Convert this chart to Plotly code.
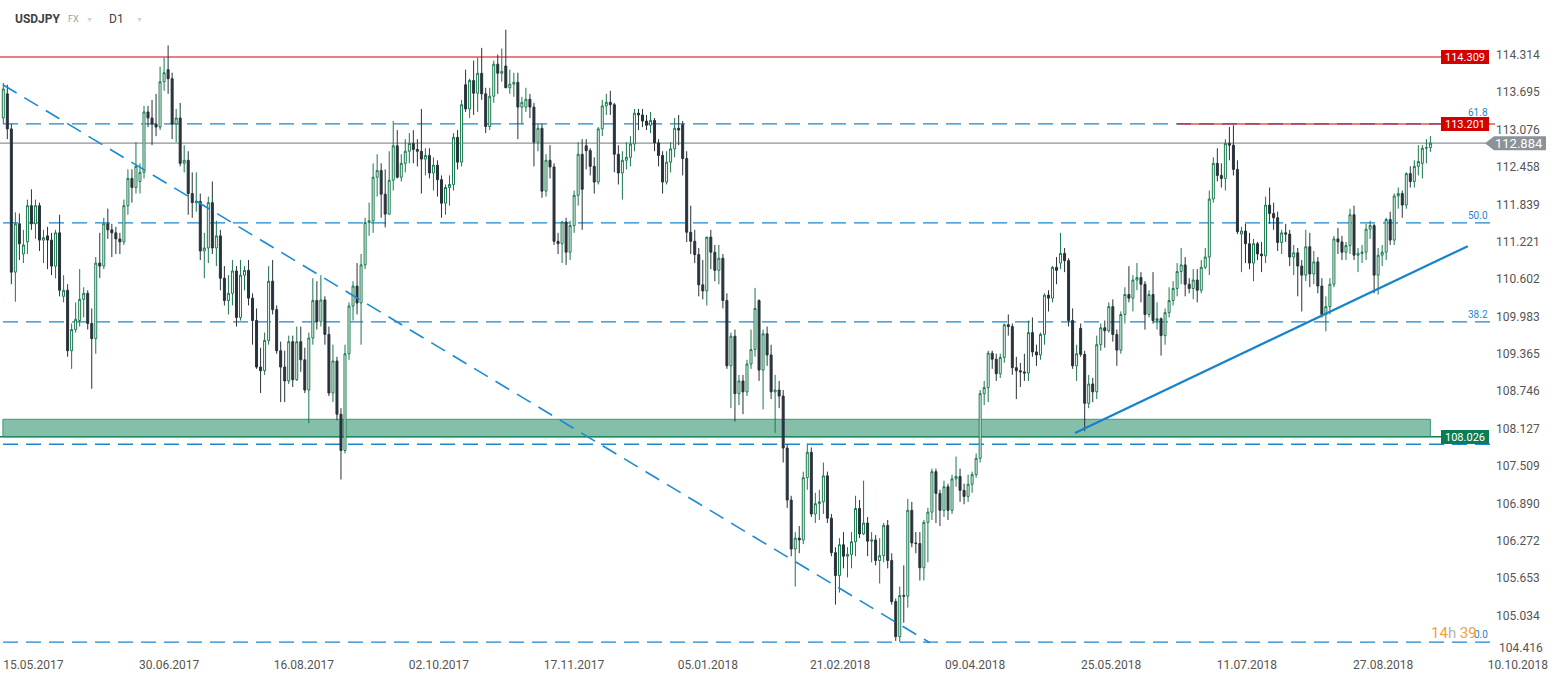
import plotly.graph_objects as go

# ---------------- USDJPY D1 candles: (open, high, low, close), one list per month ----------------
may17 = [
    (113.30, 113.88, 113.20, 113.78), (113.70, 113.85, 112.95, 113.12), (113.12, 113.20, 110.55, 110.75),
    (110.75, 111.74, 110.26, 111.55), (111.55, 111.72, 110.95, 111.22), (111.05, 111.45, 110.90, 111.20),
    (111.25, 111.95, 111.05, 111.85), (111.85, 112.12, 111.45, 111.55), (111.55, 111.95, 111.30, 111.85),
    (111.85, 111.90, 111.10, 111.28), (111.28, 111.45, 110.90, 111.32), (111.35, 111.50, 110.80, 111.28),
    (111.28, 111.40, 110.70, 110.85),
]
jun17 = [
    (110.85, 111.45, 110.65, 111.40), (111.40, 111.70, 110.35, 110.45), (110.35, 110.70, 110.25, 110.45),
    (110.45, 110.55, 109.35, 109.45), (109.45, 109.90, 109.15, 109.80), (109.80, 110.25, 109.75, 109.97),
    (109.95, 110.80, 109.85, 110.30), (110.30, 110.50, 110.00, 110.40), (110.40, 110.45, 109.80, 109.90),
    (109.90, 110.15, 108.82, 109.65), (109.65, 111.00, 109.40, 110.90), (110.90, 111.40, 110.65, 110.85),
    (110.85, 111.65, 110.80, 111.55), (111.55, 111.80, 111.30, 111.45), (111.45, 111.55, 111.00, 111.40),
    (111.40, 111.50, 111.05, 111.30), (111.30, 111.40, 111.05, 111.25), (111.25, 111.95, 111.20, 111.85),
    (111.85, 112.45, 111.70, 112.30), (112.30, 112.45, 111.90, 112.15), (112.15, 112.90, 112.05, 112.50),
    (112.25, 112.55, 112.05, 112.40),
]
jul17 = [
    (112.40, 113.50, 112.30, 113.40), (113.40, 113.50, 113.15, 113.30), (113.30, 113.60, 112.85, 113.20),
    (113.20, 113.70, 113.00, 113.15), (113.15, 114.15, 113.10, 113.90), (113.90, 114.30, 113.75, 114.05),
    (114.10, 114.50, 113.70, 113.95), (113.95, 114.05, 112.95, 113.20), (113.20, 113.45, 112.90, 113.30),
    (113.30, 113.55, 112.50, 112.55), (112.55, 112.85, 112.40, 112.60), (112.60, 112.75, 111.70, 112.05),
    (112.05, 112.40, 111.65, 111.90), (111.90, 112.40, 111.75, 111.92), (111.92, 112.05, 110.95, 111.10),
    (111.10, 111.40, 110.65, 111.15), (111.15, 112.00, 110.90, 111.90), (111.90, 112.25, 111.05, 111.15),
    (111.15, 111.60, 110.85, 111.35), (111.35, 111.45, 110.45, 110.65), (110.65, 110.85, 110.20, 110.28),
]
aug17 = [
    (110.28, 110.70, 110.05, 110.40), (110.40, 110.95, 110.20, 110.77), (110.77, 110.85, 109.85, 110.00),
    (110.00, 110.95, 109.95, 110.70), (110.70, 110.85, 110.45, 110.78), (110.78, 110.95, 110.20, 110.32),
    (110.32, 110.40, 109.55, 109.95), (109.95, 110.15, 109.15, 109.18), (109.18, 109.50, 108.75, 109.12),
    (109.12, 109.75, 109.05, 109.62), (109.62, 110.85, 109.55, 110.60), (110.60, 110.95, 110.05, 110.13),
    (110.13, 110.20, 109.40, 109.45), (109.45, 109.60, 108.60, 109.18), (109.18, 109.45, 108.60, 108.95),
    (108.95, 109.70, 108.90, 109.60), (109.60, 109.70, 108.85, 108.97), (108.97, 109.85, 108.95, 109.60),
    (109.60, 109.85, 109.10, 109.30), (109.30, 109.50, 108.75, 108.80), (108.80, 109.75, 108.25, 109.66),
    (109.66, 110.65, 109.55, 110.28), (110.28, 110.60, 109.80, 109.93),
]
sep17 = [
    (109.93, 110.70, 109.85, 110.29), (110.29, 110.35, 109.55, 109.72), (109.72, 109.85, 108.70, 108.75),
    (108.75, 109.55, 108.60, 109.28), (109.28, 109.35, 108.30, 108.40), (108.40, 108.50, 107.32, 107.80),
    (107.80, 109.55, 107.75, 109.40), (109.40, 110.25, 109.30, 110.19), (110.19, 110.60, 109.95, 110.52),
    (110.52, 110.90, 110.05, 110.24), (110.24, 111.05, 109.55, 110.87), (110.87, 111.65, 110.80, 111.57),
    (111.57, 111.90, 111.35, 111.60), (111.60, 112.55, 111.40, 112.32), (112.32, 112.70, 112.00, 112.43),
    (112.43, 112.55, 111.65, 112.04), (112.04, 112.45, 111.49, 111.71), (111.71, 112.75, 111.70, 112.27),
    (112.27, 113.25, 112.10, 112.84), (112.84, 113.10, 112.30, 112.32), (112.32, 112.70, 112.25, 112.55),
]
oct17 = [
    (112.55, 112.95, 112.40, 112.75), (112.75, 113.05, 112.55, 112.88), (112.88, 113.10, 112.55, 112.78),
    (112.78, 112.95, 112.50, 112.75), (112.75, 113.45, 112.05, 112.62), (112.62, 112.80, 112.35, 112.68),
    (112.68, 112.80, 112.30, 112.39), (112.39, 112.65, 112.10, 112.52), (112.52, 112.60, 112.00, 112.28),
    (112.28, 112.35, 111.65, 111.89), (111.89, 112.20, 111.70, 112.15), (112.15, 112.35, 111.85, 112.20),
    (112.20, 113.05, 112.10, 112.98), (112.98, 113.10, 112.45, 112.57), (112.57, 113.60, 112.50, 113.52),
    (113.85, 114.10, 113.40, 113.45), (113.45, 113.95, 113.30, 113.92), (113.92, 114.25, 113.35, 113.71),
    (113.71, 114.30, 113.40, 114.04), (114.04, 114.46, 113.60, 113.70), (113.70, 113.80, 113.05, 113.16),
    (113.16, 113.80, 113.10, 113.66),
]
nov17 = [
    (113.66, 114.25, 113.55, 114.19), (114.19, 114.35, 113.70, 114.04), (114.04, 114.45, 113.90, 114.07),
    (114.16, 114.76, 113.90, 113.80), (113.80, 114.10, 113.70, 113.86), (113.86, 114.05, 113.65, 113.89),
    (113.89, 114.05, 112.95, 113.48), (113.48, 113.65, 113.20, 113.56), (113.48, 113.80, 113.40, 113.61),
    (113.61, 113.70, 113.30, 113.48), (113.48, 113.55, 112.50, 112.90), (112.90, 113.20, 112.75, 113.13),
    (113.13, 113.20, 111.98, 112.09), (112.09, 112.70, 112.00, 112.60), (112.60, 112.85, 112.30, 112.49),
    (112.49, 112.55, 111.20, 111.26), (111.26, 111.40, 111.05, 111.22), (111.22, 111.60, 110.90, 111.58),
    (111.58, 111.65, 110.87, 111.08), (111.08, 111.60, 110.95, 111.52), (111.52, 112.10, 111.40, 112.02),
    (112.02, 112.90, 111.85, 112.70),
]
dec17 = [
    (112.70, 112.95, 111.45, 112.12), (112.84, 112.95, 112.45, 112.76), (112.76, 112.80, 112.35, 112.50),
    (112.50, 112.65, 112.05, 112.24), (112.24, 113.15, 112.20, 113.12), (113.12, 113.60, 113.00, 113.50),
    (113.50, 113.70, 113.35, 113.56), (113.56, 113.75, 113.35, 113.52), (113.52, 113.55, 112.40, 112.70),
    (112.70, 112.85, 112.20, 112.39), (112.39, 112.75, 111.95, 112.60), (112.60, 112.90, 112.45, 112.65),
    (112.65, 113.00, 112.50, 112.87), (112.87, 113.45, 112.75, 113.38), (113.38, 113.45, 113.10, 113.35),
    (113.35, 113.45, 113.15, 113.25), (113.25, 113.35, 113.10, 113.18), (113.18, 113.40, 113.05, 113.26),
    (113.26, 113.30, 112.75, 112.89), (112.89, 112.95, 112.50, 112.68),
]
jan18 = [
    (112.68, 112.75, 112.05, 112.24), (112.24, 112.75, 112.20, 112.57), (112.57, 112.90, 112.40, 112.79),
    (112.79, 113.30, 112.65, 113.13), (113.13, 113.35, 112.85, 113.10), (113.19, 113.25, 112.35, 112.63),
    (112.63, 112.75, 111.25, 111.41), (111.41, 111.85, 111.05, 111.26), (111.26, 111.45, 110.90, 111.04),
    (111.04, 111.15, 110.35, 110.54), (110.54, 110.95, 110.30, 110.44), (110.44, 111.30, 110.20, 111.33),
    (111.33, 111.45, 110.80, 111.08), (111.08, 111.20, 110.60, 110.78), (110.78, 111.20, 110.55, 110.98),
    (110.98, 111.05, 110.15, 110.28), (110.28, 110.40, 109.15, 109.20), (109.20, 109.75, 108.50, 109.69),
    (109.69, 109.80, 108.28, 108.74), (108.74, 109.05, 108.55, 108.95), (108.95, 109.05, 108.40, 108.77),
    (108.77, 109.30, 108.70, 109.23),
]
feb18 = [
    (109.23, 109.80, 109.15, 109.47), (109.47, 110.49, 109.35, 110.15), (110.28, 110.30, 108.95, 109.13),
    (109.13, 109.80, 108.48, 109.73), (109.73, 109.85, 109.20, 109.38), (109.38, 109.55, 108.65, 108.77),
    (108.77, 109.05, 108.09, 108.80), (108.80, 108.95, 108.50, 108.70), (108.70, 108.80, 107.60, 107.84),
    (107.84, 107.90, 106.85, 106.98), (106.98, 107.05, 106.05, 106.17), (106.17, 106.45, 105.55, 106.35),
    (106.35, 106.55, 106.10, 106.32), (106.32, 107.45, 106.25, 107.35), (107.35, 107.92, 107.15, 107.77),
    (107.77, 107.85, 106.70, 106.75), (106.75, 107.10, 106.60, 106.92), (106.92, 107.15, 106.65, 106.95),
    (106.95, 107.60, 106.75, 107.38), (107.38, 107.45, 106.60, 106.68),
]
mar18 = [
    (106.68, 106.75, 106.05, 106.11), (106.11, 106.20, 105.25, 105.73), (105.73, 106.35, 105.45, 106.24),
    (106.24, 106.45, 105.85, 106.05), (106.05, 106.20, 105.70, 106.08), (106.08, 106.45, 105.85, 106.29),
    (106.29, 107.05, 106.05, 106.84), (106.84, 106.98, 106.35, 106.42), (106.42, 107.30, 106.40, 106.60),
    (106.60, 106.70, 106.05, 106.30), (106.30, 106.45, 105.95, 106.32), (106.32, 106.40, 105.90, 105.98),
    (105.98, 106.35, 105.60, 106.06), (106.06, 106.60, 105.95, 106.56), (106.56, 106.65, 105.85, 105.98),
    (105.98, 106.10, 105.25, 105.30), (105.30, 105.35, 104.65, 104.72), (104.72, 105.55, 104.63, 105.40),
    (105.40, 105.90, 104.95, 105.39), (105.39, 107.00, 105.20, 106.81), (106.81, 106.95, 106.20, 106.27),
    (106.27, 106.45, 106.10, 106.26),
]
apr18 = [
    (106.26, 106.45, 105.65, 105.86), (105.86, 106.65, 105.65, 106.61), (106.61, 106.85, 105.95, 106.78),
    (106.78, 107.50, 106.65, 107.45), (107.45, 107.50, 106.60, 107.09), (107.09, 107.15, 106.55, 106.81),
    (106.81, 107.30, 106.70, 107.20), (107.20, 107.25, 106.65, 106.81), (106.81, 107.40, 106.75, 107.33),
    (107.33, 107.70, 107.20, 107.37), (107.37, 107.50, 106.95, 107.14), (107.14, 107.25, 106.91, 107.04),
    (107.04, 107.40, 106.95, 107.24), (107.24, 107.45, 107.10, 107.40), (107.40, 107.75, 107.35, 107.67),
    (107.67, 108.80, 107.60, 108.74), (108.74, 108.95, 108.55, 108.84), (108.84, 109.45, 108.60, 109.41),
    (109.41, 109.45, 109.15, 109.31), (109.31, 109.40, 108.95, 109.07), (109.07, 109.40, 109.00, 109.34),
]
may18 = [
    (109.34, 109.90, 109.25, 109.88), (109.88, 110.05, 109.70, 109.85), (109.85, 109.90, 109.05, 109.17),
    (109.17, 109.35, 108.65, 109.12), (109.12, 109.25, 108.85, 109.10), (109.10, 109.40, 108.95, 109.08),
    (109.08, 109.95, 108.95, 109.75), (109.75, 110.00, 109.35, 109.43), (109.43, 109.55, 109.20, 109.38),
    (109.38, 109.75, 109.30, 109.72), (109.72, 110.40, 109.55, 110.37), (110.37, 110.45, 110.10, 110.32),
    (110.32, 110.85, 110.25, 110.83), (110.83, 111.00, 110.55, 110.78), (110.90, 111.40, 110.80, 111.06),
    (111.06, 111.15, 110.75, 110.94), (110.94, 110.98, 109.85, 109.95), (109.95, 110.15, 109.15, 109.20),
    (109.20, 109.55, 108.95, 109.40), (109.82, 109.90, 109.35, 109.39), (109.39, 109.45, 108.12, 108.58),
    (108.58, 109.05, 108.50, 108.90), (108.90, 109.00, 108.60, 108.77),
]
jun18 = [
    (108.77, 109.70, 108.65, 109.55), (109.55, 109.90, 109.45, 109.83), (109.83, 109.95, 109.50, 109.78),
    (109.78, 110.25, 109.75, 110.18), (110.18, 110.30, 109.60, 109.72), (109.72, 109.80, 109.20, 109.46),
    (109.46, 110.10, 109.40, 110.05), (110.05, 110.50, 109.90, 110.38), (110.38, 110.85, 110.25, 110.32),
    (110.32, 110.70, 110.10, 110.62), (110.62, 110.90, 110.45, 110.66), (110.66, 110.75, 110.25, 110.55),
    (110.55, 110.60, 109.80, 110.05), (110.05, 110.45, 110.00, 110.38), (110.38, 110.75, 109.90, 109.95),
    (109.95, 110.25, 109.80, 109.98), (109.98, 110.00, 109.37, 109.70), (109.70, 110.15, 109.55, 110.08),
    (110.08, 110.50, 110.00, 110.28), (110.28, 110.60, 110.20, 110.48), (110.48, 110.90, 110.35, 110.76),
]
jul18 = [
    (110.76, 111.15, 110.55, 110.87), (110.87, 111.00, 110.35, 110.55), (110.55, 110.65, 110.40, 110.48),
    (110.48, 110.80, 110.30, 110.62), (110.62, 110.80, 110.25, 110.45), (110.45, 110.95, 110.40, 110.83),
    (110.83, 111.15, 110.80, 111.00), (111.00, 112.10, 110.70, 111.96), (111.96, 112.65, 111.90, 112.55),
    (112.55, 112.80, 112.25, 112.35), (112.35, 112.55, 112.15, 112.30), (112.30, 112.95, 112.10, 112.88),
    (112.88, 113.15, 112.60, 112.85), (112.85, 113.18, 112.35, 112.45), (112.45, 112.60, 111.38, 111.42),
    (111.38, 111.50, 110.75, 111.43), (111.43, 111.55, 110.90, 111.22), (111.22, 111.40, 110.80, 110.90),
    (110.90, 111.30, 110.60, 111.22), (111.22, 111.25, 110.95, 111.05), (111.05, 111.25, 110.75, 111.02),
    (111.02, 112.00, 110.90, 111.86),
]
aug18 = [
    (111.86, 112.15, 111.55, 111.72), (111.72, 111.90, 111.45, 111.65), (111.65, 111.75, 111.10, 111.24),
    (111.24, 111.45, 111.05, 111.40), (111.40, 111.55, 111.25, 111.38), (111.38, 111.45, 110.85, 111.00),
    (111.00, 111.20, 110.70, 111.07), (111.07, 111.15, 110.35, 110.85), (110.85, 110.95, 110.10, 110.70),
    (110.70, 111.45, 110.60, 111.17), (111.17, 111.40, 110.50, 110.72), (110.72, 111.10, 110.55, 110.92),
    (110.92, 111.00, 110.40, 110.52), (110.52, 110.65, 110.00, 110.05), (110.05, 110.35, 109.77, 110.18),
    (110.18, 110.65, 110.05, 110.55), (110.55, 111.35, 110.50, 111.30), (111.30, 111.48, 111.05, 111.25),
    (111.25, 111.35, 110.95, 111.08), (111.08, 111.25, 110.95, 111.19), (111.19, 111.80, 111.05, 111.70),
    (111.70, 111.85, 110.95, 111.03), (111.03, 111.15, 110.75, 111.06),
]
sep18 = [
    (111.06, 111.20, 110.90, 111.08), (111.08, 111.55, 110.95, 111.46), (111.46, 111.60, 111.30, 111.52),
    (111.52, 111.55, 110.40, 110.70), (110.70, 111.15, 110.38, 111.03), (111.03, 111.20, 110.85, 111.08),
    (111.08, 111.65, 110.95, 111.62), (111.62, 111.75, 111.20, 111.28), (111.28, 112.05, 111.20, 112.01),
    (112.01, 112.15, 111.80, 112.05), (112.05, 112.10, 111.65, 111.86), (111.86, 112.40, 111.80, 112.38),
    (112.38, 112.50, 112.15, 112.25), (112.25, 112.60, 112.15, 112.50), (112.50, 112.85, 112.35, 112.58),
    (112.55, 112.85, 112.30, 112.80), (112.80, 112.95, 112.55, 112.81), (112.81, 113.00, 112.74, 112.884),
]

# ---------------- axis labels ----------------
x_tick_labels = ["15.05.2017", "30.06.2017", "16.08.2017", "02.10.2017", "17.11.2017", "05.01.2018",
                 "21.02.2018", "09.04.2018", "25.05.2018", "11.07.2018", "27.08.2018", "10.10.2018"]
x_tick_bars = [0, 33.8, 67.3, 100.9, 134.5, 167.8, 200.7, 234.3, 268.1, 301.9, 335.8, 369.3]
y_tick_values = [114.314, 113.695, 113.076, 112.458, 111.839, 111.221, 110.602, 109.983, 109.365,
                 108.746, 108.127, 107.509, 106.890, 106.272, 105.653, 105.034]
y_bottom_label = 104.416

# ---------------- drawn levels / tools ----------------
resistance_top = 114.309
resistance_mid = 113.201
resistance_mid_start_bar = 292
last_price = 112.884
zone_low, zone_high = 108.026, 108.316
fib_low, fib_high = 104.63, 118.50
fib_ratios = [0.0, 0.236, 0.382, 0.5, 0.618]
fib_texts = {0.0: "0.0", 0.382: "38.2", 0.5: "50.0", 0.618: "61.8"}
down_trend = [(-0.1, 113.85), (230.5, 104.62)]
up_trend = [(266.6, 108.09), (364.3, 111.18)]

months = [may17, jun17, jul17, aug17, sep17, oct17, nov17, dec17, jan18, feb18,
          mar18, apr18, may18, jun18, jul18, aug18, sep18]
bars = [row for m in months for row in m]
bar_index = list(range(len(bars)))
opens = [b[0] for b in bars]
highs = [b[1] for b in bars]
lows = [b[2] for b in bars]
closes = [b[3] for b in bars]
last_bar = bar_index[-1]

# ---------------- layout geometry ----------------
W, H = 1557, 679
MR, MB = 62, 23
PW, PH = W - MR, H - MB
x_range = [-0.82, 371.07]
y_range = [104.40, 115.252]


def paper_x(px):
    return px / PW


def paper_y(py):
    return 1 - py / PH


FIB_BLUE = "#1c86cf"
RED = "#d40000"
GREEN = "#0b7d55"
GRAY = "#8c9398"
FONT = "Roboto"

fig = go.Figure()
fig.add_trace(go.Candlestick(
    x=bar_index, open=opens, high=highs, low=lows, close=closes,
    increasing=dict(line=dict(color="#17794c", width=1), fillcolor="#ffffff"),
    decreasing=dict(line=dict(color="#28323a", width=1), fillcolor="#28323a"),
    whiskerwidth=0, showlegend=False, hoverinfo="skip",
))

shapes = []
# support zone
shapes.append(dict(type="rect", xref="x", yref="y", x0=-0.1, x1=last_bar, y0=zone_low, y1=zone_high,
                   fillcolor="rgba(11,128,86,0.5)", line=dict(color="rgba(40,150,110,0.9)", width=1),
                   layer="below"))
shapes.append(dict(type="line", xref="paper", yref="y", x0=0, x1=paper_x(1441), y0=zone_low, y1=zone_low,
                   line=dict(color=GREEN, width=1.6), layer="below"))
# fibonacci levels
for r in fib_ratios:
    lvl = fib_low + r * (fib_high - fib_low)
    shapes.append(dict(type="line", xref="paper", yref="y", x0=paper_x(3), x1=paper_x(1490), y0=lvl, y1=lvl,
                       line=dict(color=FIB_BLUE, width=1.3, dash="15px,8px"), layer="below"))
# horizontal resistance lines
shapes.append(dict(type="line", xref="paper", yref="y", x0=0, x1=paper_x(1441),
                   y0=resistance_top, y1=resistance_top, line=dict(color=RED, width=1.2), layer="below"))
shapes.append(dict(type="line", xref="x", yref="y", x0=resistance_mid_start_bar, x1=x_range[1],
                   y0=resistance_mid, y1=resistance_mid, line=dict(color=RED, width=1.2), layer="below"))
shapes.append(dict(type="line", xref="paper", yref="y", x0=0, x1=paper_x(1486),
                   y0=last_price, y1=last_price, line=dict(color=GRAY, width=1.2), layer="below"))
# trend lines
shapes.append(dict(type="line", xref="x", yref="y", x0=down_trend[0][0], y0=down_trend[0][1],
                   x1=down_trend[1][0], y1=down_trend[1][1],
                   line=dict(color="#1a8ad2", width=1.6, dash="16px,9px")))
shapes.append(dict(type="line", xref="x", yref="y", x0=up_trend[0][0], y0=up_trend[0][1],
                   x1=up_trend[1][0], y1=up_trend[1][1],
                   line=dict(color="#1682c9", width=2.2)))
# current price arrow tag
dy = 7.0 / 60.45
path = (f"M {paper_x(1485)},{last_price} L {paper_x(1494)},{last_price + dy} "
        f"L {paper_x(1546)},{last_price + dy} L {paper_x(1546)},{last_price - dy} "
        f"L {paper_x(1494)},{last_price - dy} Z")
shapes.append(dict(type="path", xref="paper", yref="y", path=path, fillcolor=GRAY, line=dict(width=0)))

annotations = []
for r, t in fib_texts.items():
    lvl = fib_low + r * (fib_high - fib_low)
    annotations.append(dict(xref="paper", yref="y", x=paper_x(1490), y=lvl, text=t, showarrow=False,
                            xanchor="right", yanchor="bottom", yshift=4 if r == 0.618 else 0,
                            font=dict(family=FONT, size=10, color=FIB_BLUE)))


def tag(value, bg):
    return dict(xref="paper", yref="y", x=paper_x(1441), y=value, text=f"{value:.3f}", showarrow=False,
                xanchor="left", yanchor="middle", bgcolor=bg, borderwidth=0, borderpad=0,
                width=48, height=14, font=dict(family=FONT, size=11, color="#ffffff"))


annotations.append(tag(resistance_top, RED))
annotations.append(tag(resistance_mid, RED))
annotations.append(tag(zone_low, GREEN))
annotations.append(dict(xref="paper", yref="y", x=paper_x(1519), y=last_price, text=f"{last_price:.3f}",
                        showarrow=False, xanchor="center", yanchor="middle",
                        font=dict(family=FONT, size=13, color="#ffffff")))
annotations.append(dict(xref="paper", yref="paper", x=paper_x(1497), y=paper_y(647.5),
                        text=f"{y_bottom_label:.3f}", showarrow=False, xanchor="left", yanchor="middle",
                        font=dict(family=FONT, size=12, color="#555555")))
annotations.append(dict(xref="paper", yref="paper", x=paper_x(1429), y=paper_y(633),
                        text="<span style='color:#f5a131'>14</span><span style='color:#b5b5b5'>h</span>"
                             "<span style='color:#f5a131'> 39</span>",
                        showarrow=False, xanchor="left", yanchor="middle",
                        font=dict(family=FONT, size=15, color="#f5a131")))
# header
annotations.append(dict(xref="paper", yref="paper", x=paper_x(13), y=paper_y(19), text="<b>USDJPY</b>",
                        showarrow=False, xanchor="left", yanchor="middle",
                        font=dict(family=FONT, size=12, color="#3d4246")))
annotations.append(dict(xref="paper", yref="paper", x=paper_x(66), y=paper_y(19), text="FX",
                        showarrow=False, xanchor="left", yanchor="middle",
                        font=dict(family=FONT, size=9, color="#9aa0a4")))
annotations.append(dict(xref="paper", yref="paper", x=paper_x(107), y=paper_y(19), text="D1",
                        showarrow=False, xanchor="left", yanchor="middle",
                        font=dict(family=FONT, size=12, color="#3d4246")))
for px in (84, 134):
    annotations.append(dict(xref="paper", yref="paper", x=paper_x(px), y=paper_y(20), text="▼",
                            showarrow=False, xanchor="left", yanchor="middle",
                            font=dict(family=FONT, size=7, color="#cfd2d4")))

fig.update_layout(
    width=W, height=H,
    margin=dict(l=0, r=MR, t=0, b=MB, pad=0),
    paper_bgcolor="#ffffff", plot_bgcolor="#ffffff",
    shapes=shapes, annotations=annotations,
    showlegend=False,
    xaxis=dict(range=x_range, tickmode="array", tickvals=x_tick_bars, ticktext=x_tick_labels,
               ticklabelshift=30, showgrid=False, zeroline=False, showline=False, ticks="",
               tickfont=dict(family=FONT, size=12, color="#555555"), rangeslider=dict(visible=False),
               fixedrange=True),
    yaxis=dict(range=y_range, side="right", tickmode="array", tickvals=y_tick_values,
               ticktext=[f"{v:.3f}" for v in y_tick_values], ticklabelshift=-2,
               showgrid=False, zeroline=False, showline=False, ticks="",
               tickfont=dict(family=FONT, size=12, color="#555555"), fixedrange=True),
)

fig.write_html("out.html", config={"displayModeBar": False},
               post_script="document.body.style.margin='0';")
